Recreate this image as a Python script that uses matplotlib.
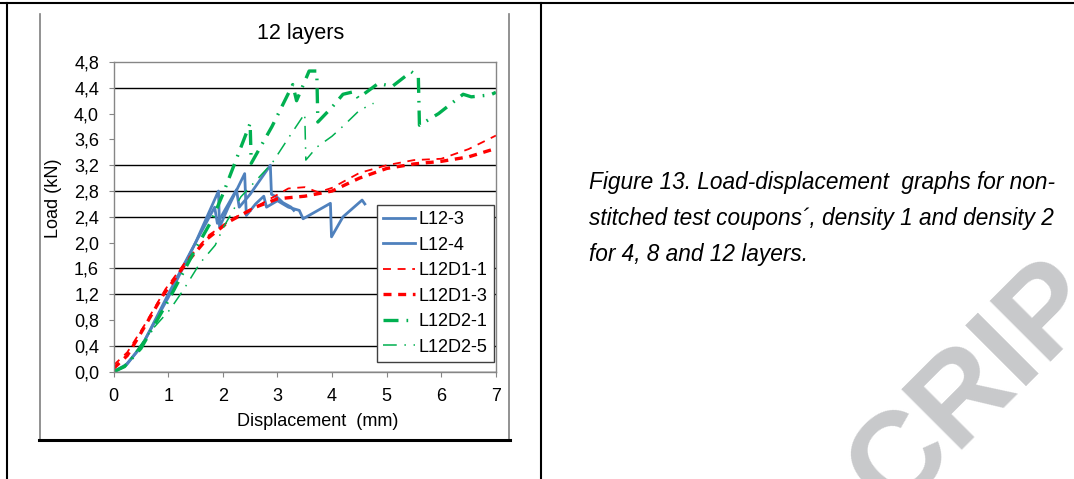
import numpy as np
import matplotlib
matplotlib.use('Agg')
import matplotlib.pyplot as plt
from matplotlib.ticker import FixedLocator, FuncFormatter
from matplotlib.lines import Line2D

plt.rcParams['font.family'] = ['Liberation Sans', 'DejaVu Sans']

#%% data (displacement in mm, load in kN)
d_L12_3 = [0, 0.2, 0.5, 1.0, 1.5, 1.92, 1.94, 2.1, 2.4, 2.43, 2.6, 2.75, 2.8, 3.0, 3.2, 3.4, 3.47, 3.97, 3.99, 4.2, 4.55, 4.6]
L_L12_3 = [0, 0.08, 0.38, 1.15, 2.0, 2.8, 2.24, 2.55, 3.07, 2.42, 2.6, 2.72, 2.55, 2.65, 2.55, 2.5, 2.37, 2.61, 2.09, 2.4, 2.66, 2.6]

d_L12_4 = [0, 0.25, 0.55, 1.0, 1.5, 1.85, 1.9, 2.25, 2.3, 2.5, 2.87, 2.89, 3.0, 3.1, 3.25, 3.3]
L_L12_4 = [0, 0.12, 0.45, 1.2, 2.0, 2.55, 2.3, 2.82, 2.55, 2.75, 3.2, 2.75, 2.7, 2.62, 2.55, 2.5]

d_L12D1_1 = [0, 0.25, 0.55, 0.95, 1.35, 1.75, 2.2, 2.7, 3.2, 3.5, 3.75, 4.0, 4.5, 5.0, 5.5, 6.0, 6.5, 7.0]
L_L12D1_1 = [0.1, 0.3, 0.7, 1.28, 1.74, 2.12, 2.38, 2.6, 2.84, 2.86, 2.78, 2.85, 3.08, 3.2, 3.28, 3.3, 3.45, 3.66]

d_L12D1_3 = [0, 0.25, 0.5, 0.9, 1.3, 1.7, 2.1, 2.6, 3.0, 3.5, 4.0, 4.5, 5.0, 5.5, 6.0, 6.5, 7.0]
L_L12D1_3 = [0.05, 0.25, 0.6, 1.18, 1.65, 2.05, 2.32, 2.55, 2.68, 2.72, 2.8, 3.0, 3.15, 3.22, 3.26, 3.33, 3.46]

d_L12D2_1 = [0, 0.2, 0.5, 1.0, 1.5, 1.8, 2.0, 2.5, 2.52, 2.9, 3.28, 3.35, 3.58, 3.72, 3.74, 4.0, 4.2, 4.4, 4.48, 4.85, 5.1, 5.45, 5.58, 5.6, 5.95, 6.4, 6.55, 6.9, 7.0]
L_L12D2_1 = [0, 0.08, 0.36, 1.1, 1.9, 2.35, 2.75, 3.85, 3.23, 3.8, 4.45, 4.2, 4.66, 4.66, 3.87, 4.1, 4.3, 4.34, 4.24, 4.47, 4.42, 4.65, 4.57, 3.82, 4.0, 4.3, 4.26, 4.29, 4.33]

d_L12D2_5 = [0, 0.25, 0.67, 1.03, 1.28, 1.58, 1.86, 2.02, 2.33, 2.9, 3.2, 3.5, 3.52, 3.72, 4.0, 4.22, 4.5, 4.76]
L_L12D2_5 = [0, 0.12, 0.62, 0.96, 1.27, 1.68, 1.96, 2.25, 2.71, 3.23, 3.62, 4.0, 3.28, 3.48, 3.65, 3.82, 4.05, 4.16]

yticks = [0.0, 0.4, 0.8, 1.2, 1.6, 2.0, 2.4, 2.8, 3.2, 3.6, 4.0, 4.4, 4.8]
xticks = [0, 1, 2, 3, 4, 5, 6, 7]
gridShown = [0.4, 1.2, 1.6, 2.4, 2.8, 3.2, 4.4]   # only these survive in the scan

caption = ['Figure 13. Load-displacement  graphs for non-',
           'stitched test coupons\u00b4, density 1 and density 2',
           'for 4, 8 and 12 layers.']

#%% figure ------------------------------------------------------
W, H = 1074, 479
fig = plt.figure(figsize=(W/100, H/100), dpi=100)

def fx(px): return px/W
def fy(py): return 1 - py/H

# table frame and chart image frame (figure-level lines)
frame = [((7, 7), (3, H), 'k', 1.5),
         ((0, W), (3, 3), 'k', 1.5),
         ((541, 541), (3, H), 'k', 1.5),
         ((39.5, 39.5), (14, 440), '#7f7f7f', 1.2),
         ((509, 509), (14, 440), '#7f7f7f', 1.2),
         ((39, 509.5), (440, 440), 'k', 2.2)]
for xs, ys, c, lw in frame:
    fig.add_artist(Line2D([fx(x) for x in xs], [fy(y) for y in ys], color=c, lw=lw))

# watermark (only part of it falls inside the page crop)
fig.text(fx(892), fy(515), 'CRIP', rotation=45, rotation_mode='anchor',
         ha='left', va='baseline', fontsize=90, fontweight='bold',
         color='#c8c9cb', zorder=0)

ax = fig.add_axes([fx(113.6), fy(371.7), fx(495.9-113.6), (371.7-62)/H])

blue = '#4f81bd'
red = '#ff0000'
green = '#00b050'
ax.plot(d_L12_3, L_L12_3, color=blue, lw=2.0, label='L12-3')
ax.plot(d_L12_4, L_L12_4, color=blue, lw=2.0, label='L12-4')
ax.plot(d_L12D1_1, L_L12D1_1, color=red, lw=1.3, dashes=(4.4, 3.7), label='L12D1-1')
ax.plot(d_L12D1_3, L_L12D1_3, color=red, lw=2.4, dashes=(2.4, 2.0), label='L12D1-3')
ax.plot(d_L12D2_1, L_L12D2_1, color=green, lw=2.4, dashes=(4.5, 2.4, 0.5, 2.4), label='L12D2-1')
ax.plot(d_L12D2_5, L_L12D2_5, color=green, lw=1.1, dashes=(9, 5, 1, 5), label='L12D2-5')

for g in gridShown:
    ax.axhline(g, color='k', lw=1.0, zorder=0.5)
ax.axhline(0, color='k', lw=1.0, zorder=0.5)

ax.set_xlim(0, 7)
ax.set_ylim(0, 4.8)
ax.xaxis.set_major_locator(FixedLocator(xticks))
ax.yaxis.set_major_locator(FixedLocator(yticks))
ax.yaxis.set_major_formatter(FuncFormatter(lambda v, p: ('%.1f' % v).replace('.', ',')))
ax.tick_params(axis='both', direction='out', length=3.5, color='#868686',
               labelsize=13)
ax.tick_params(axis='x', pad=8)
ax.tick_params(axis='y', pad=7)
for s in ['left', 'top', 'right', 'bottom']:
    ax.spines[s].set_color('#868686')
    ax.spines[s].set_linewidth(1.0)

fig.text(fx(301), fy(33), '12 layers', ha='center', va='center', fontsize=15.5)
fig.text(fx(318), fy(421), 'Displacement  (mm)', ha='center', va='center', fontsize=13)
fig.text(fx(53), fy(198), 'Load (kN)', ha='center', va='center', rotation=90, fontsize=13)

leg = ax.legend(loc='upper left', bbox_to_anchor=((377-113.6)/382.3, 1-(205-62)/309.7),
                fontsize=13, frameon=True, fancybox=False, borderpad=0.35,
                labelspacing=0.47, handlelength=1.75, handletextpad=0.2,
                borderaxespad=0)
leg.get_frame().set_edgecolor('#404040')
leg.get_frame().set_linewidth(1.0)
leg.get_frame().set_alpha(1)

for i, line in enumerate(caption):
    fig.text(fx(589), fy(183 + i*35.5), line, ha='left', va='center',
             fontsize=16.3, style='italic')

fig.savefig('out.png', dpi=100)
